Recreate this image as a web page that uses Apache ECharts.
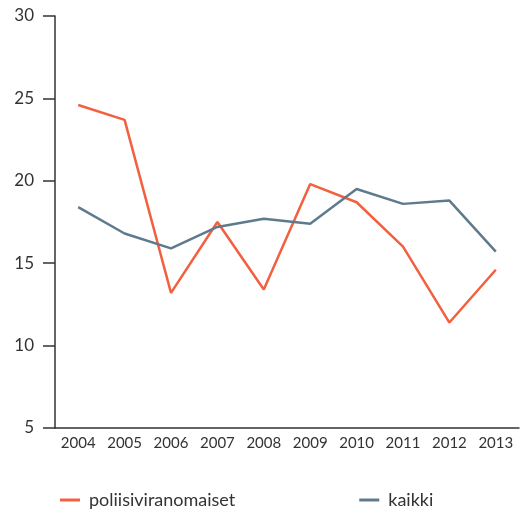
<!DOCTYPE html>
<html>
<head>
<meta charset="utf-8">
<script src="https://cdn.jsdelivr.net/npm/echarts@6/dist/echarts.min.js"></script>
<style>
  html, body { margin: 0; padding: 0; background: #fff; }
  #chart { width: 526px; height: 509px; }
</style>
</head>
<body>
<div id="chart"></div>
<script>
const years = ['2004', '2005', '2006', '2007', '2008', '2009', '2010', '2011', '2012', '2013'];
const poliisiData = [24.6, 23.7, 13.2, 17.5, 13.4, 19.8, 18.7, 16.0, 11.4, 14.6];
const kaikkiData = [18.4, 16.8, 15.9, 17.2, 17.7, 17.4, 19.5, 18.6, 18.8, 15.7];

const font = 'Lato, "Open Sans", sans-serif';

const option = {
  animation: false,
  textStyle: { fontFamily: font },
  grid: { left: 55, right: 7, top: 16, bottom: 81 },
  legend: {
    top: 486,
    left: 55,
    itemGap: 124,
    itemWidth: 20,
    itemHeight: 3,
    icon: 'rect',
    textStyle: { fontSize: 18, color: '#333', fontFamily: font, padding: [0, 0, 0, 4] },
    data: ['poliisiviranomaiset', 'kaikki'],
  },
  xAxis: {
    type: 'category',
    boundaryGap: true,
    data: years,
    axisLine: { lineStyle: { color: '#333', width: 1.5 } },
    axisTick: { inside: true, length: 10, lineStyle: { color: '#333', width: 1.5 } },
    axisLabel: { fontSize: 15, color: '#333', margin: 8 },
  },
  yAxis: {
    type: 'value',
    min: 5,
    max: 30,
    interval: 5,
    splitLine: { show: false },
    axisLine: { show: true, lineStyle: { color: '#333', width: 1.5 } },
    axisTick: { show: true, length: 12, lineStyle: { color: '#333', width: 1.5 } },
    axisLabel: { fontSize: 17, color: '#333', margin: 21 },
  },
  series: [
    {
      name: 'poliisiviranomaiset',
      type: 'line',
      data: poliisiData,
      symbol: 'none',
      lineStyle: { color: '#f2603f', width: 2.5 },
      itemStyle: { color: '#f2603f' },
    },
    {
      name: 'kaikki',
      type: 'line',
      data: kaikkiData,
      symbol: 'none',
      lineStyle: { color: '#5e7a8c', width: 2.5 },
      itemStyle: { color: '#5e7a8c' },
    },
  ],
};

const myChart = echarts.init(document.getElementById('chart'));
myChart.setOption(option);
</script>
</body>
</html>
